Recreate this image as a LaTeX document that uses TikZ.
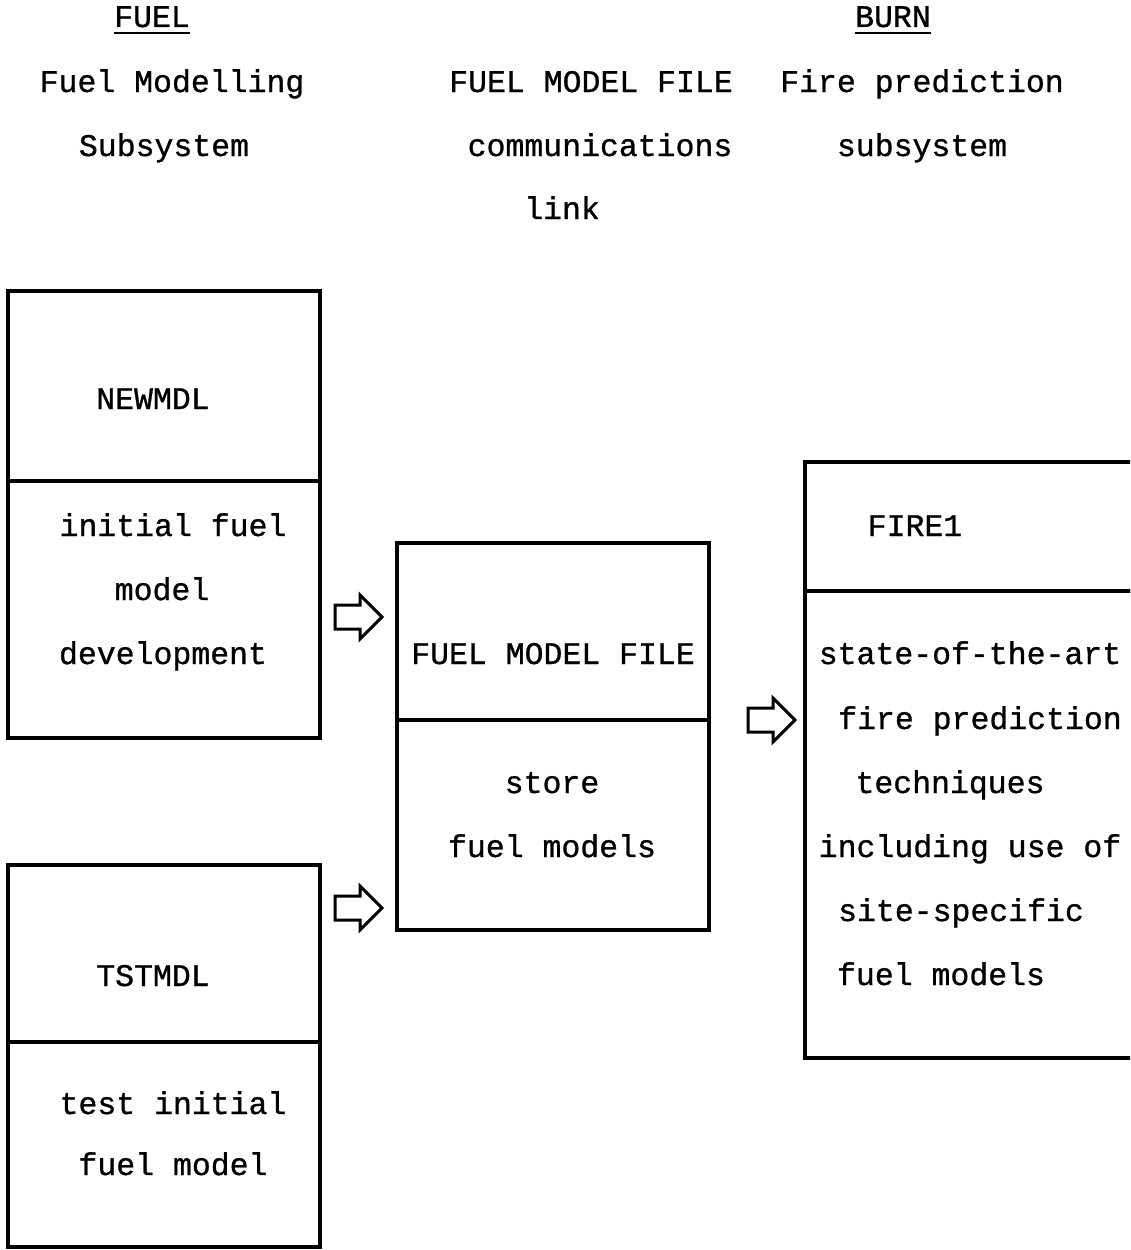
\documentclass[tikz,border=0pt]{standalone}
\usepackage{fontspec}
\setmainfont{Liberation Mono}[FakeBold=0.9]
\usetikzlibrary{shapes.arrows}
\begin{document}
\begin{tikzpicture}[x=1pt,y=-1pt,
  txt/.style={anchor=base,inner sep=0pt,font=\fontsize{31.5}{32}\selectfont},
  ulined/.style={txt},
  frame/.style={draw,line width=3.4pt,rectangle,inner sep=0pt,outer sep=0pt,anchor=north west},
  hollowarrow/.style={draw,line width=3pt,single arrow,minimum height=47pt,
    text height=10.5pt,text depth=10.5pt,text width=0pt,single arrow head extend=10pt,
    inner sep=0pt,outer sep=0pt,single arrow tip angle=90,anchor=tail},
]
\useasboundingbox (0,0) rectangle (1130,1250);
\fill[white] (0,0) rectangle (1130,1250);
\clip (0,0) rectangle (1130,1250);

% column headings
\node[ulined] (hfuel) at (152,27) {FUEL};
\draw[line width=2.4pt] ([yshift=-6pt]hfuel.base west) -- ([yshift=-6pt]hfuel.base east);
\node[txt] (hfuel1) at (172,92) {Fuel Modelling};
\node[txt] (hfuel2) at (164,156) {Subsystem};

\node[txt] (hlink1) at (591,92) {FUEL MODEL FILE};
\node[txt] (hlink2) at (600,156) {communications};
\node[txt] (hlink3) at (562,219) {link};

\node[ulined] (hburn) at (893,27) {BURN};
\draw[line width=2.4pt] ([yshift=-6pt]hburn.base west) -- ([yshift=-6pt]hburn.base east);
\node[txt] (hburn1) at (922,92) {Fire prediction};
\node[txt] (hburn2) at (922,156) {subsystem};

% NEWMDL box
\node[frame,minimum width=312pt,minimum height=190pt] (newtop) at (8,291) {};
\node[frame,minimum width=312pt,minimum height=257pt] (newbody) at (8,481) {};
\node[txt] (newname) at (153,409) {NEWMDL};
\node[txt] (new1) at (173,536) {initial fuel};
\node[txt] (new2) at (162,600) {model};
\node[txt] (new3) at (163,664) {development};

% TSTMDL box
\node[frame,minimum width=312pt,minimum height=177pt] (tsttop) at (8,865) {};
\node[frame,minimum width=312pt,minimum height=205pt] (tstbody) at (8,1042) {};
\node[txt] (tstname) at (153,986) {TSTMDL};
\node[txt] (tst1) at (173,1114) {test initial};
\node[txt] (tst2) at (173,1175) {fuel model};

% FUEL MODEL FILE box
\node[frame,minimum width=312pt,minimum height=177pt] (filetop) at (397,543) {};
\node[frame,minimum width=312pt,minimum height=210pt] (filebody) at (397,720) {};
\node[txt] (filename) at (553,664) {FUEL MODEL FILE};
\node[txt] (file1) at (552,793) {store};
\node[txt] (file2) at (552,857) {fuel models};

% FIRE1 box (runs past the right edge)
\node[frame,minimum width=360pt,minimum height=129pt] (firetop) at (805,462) {};
\node[frame,minimum width=360pt,minimum height=467pt] (firebody) at (805,591) {};
\node[txt] (firename) at (915,536) {FIRE1};
\node[txt] (fire1) at (970,664) {state-of-the-art};
\node[txt] (fire2) at (980,729) {fire prediction};
\node[txt] (fire3) at (950,793) {techniques};
\node[txt] (fire4) at (970,857) {including use of};
\node[txt] (fire5) at (961,921) {site-specific};
\node[txt] (fire6) at (941,985) {fuel models};

% hollow flow arrows
\node[hollowarrow] (arrnew) at (335,617) {};
\node[hollowarrow] (arrtst) at (335,908) {};
\node[hollowarrow] (arrfile) at (748,720) {};
\end{tikzpicture}
\end{document}
